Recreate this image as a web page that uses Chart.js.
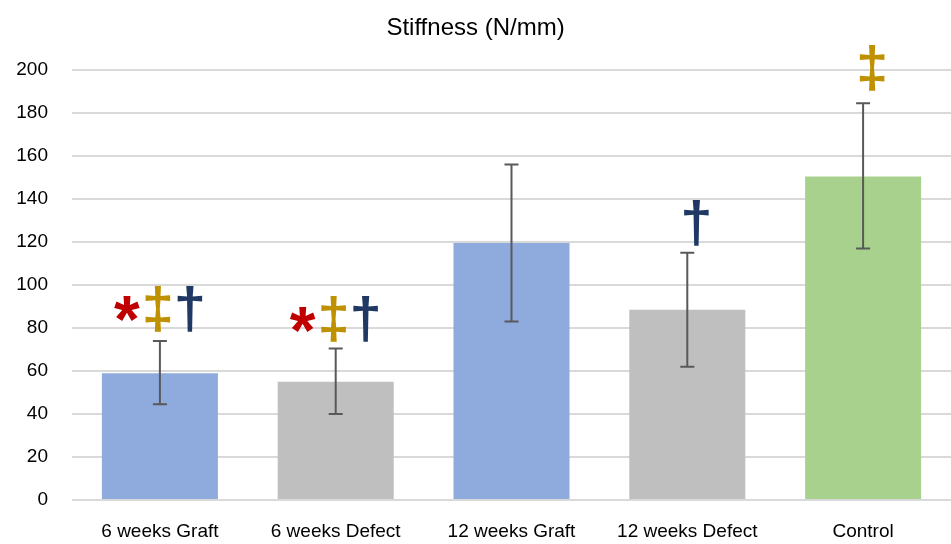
<!DOCTYPE html>
<html lang="en">
<head>
  <meta charset="UTF-8">
  <title>Stiffness (N/mm)</title>
  <style>
    body { margin: 0; padding: 0; background: #fff; }
    .chart-container { width: 951px; height: 544px; }
  </style>
  <script src="https://cdn.jsdelivr.net/npm/chart.js"></script>
</head>
<body>
  <div class="chart-container">
    <canvas id="myChart" width="951" height="544"></canvas>
  </div>

  <script>
    // data
    const categories = ['6 weeks Graft', '6 weeks Defect', '12 weeks Graft', '12 weeks Defect', 'Control'];
    const stiffness = [59, 55, 119.5, 88.5, 150.5];
    const errLow = [44.5, 40, 83, 62, 117];
    const errHigh = [74, 70.5, 156, 115, 184.5];
    const barColors = ['#8faadc', '#bfbfbf', '#8faadc', '#bfbfbf', '#a9d18e'];
    // significance marks above each bar, and the value they sit at
    const sigMarks = [['*', '‡', '†'], ['*', '‡', '†'], [], ['†'], ['‡']];
    const sigLevel = [89, 84, 0, 129, 201];
    const markColors = { '*': '#c00000', '‡': '#bf9000', '†': '#1f3864' };

    const fontFam = "'Liberation Sans Narrow', 'Liberation Sans', sans-serif";

    // error bars + marks
    const extras = {
      id: 'extras',
      afterDatasetsDraw(chart) {
        const ctx = chart.ctx;
        const x = chart.scales.x, y = chart.scales.y;
        ctx.save();
        ctx.strokeStyle = '#595959';
        ctx.lineWidth = 2;
        categories.forEach((c, i) => {
          const cx = x.getPixelForValue(i);
          const yl = y.getPixelForValue(errLow[i]);
          const yh = y.getPixelForValue(errHigh[i]);
          ctx.beginPath();
          ctx.moveTo(cx, yl); ctx.lineTo(cx, yh);
          ctx.moveTo(cx - 7, yl); ctx.lineTo(cx + 7, yl);
          ctx.moveTo(cx - 7, yh); ctx.lineTo(cx + 7, yh);
          ctx.stroke();
        });

        ctx.textAlign = 'center';
        ctx.textBaseline = 'alphabetic';
        sigMarks.forEach((marks, i) => {
          if (!marks.length) return;
          const cx = x.getPixelForValue(i);
          const cy = y.getPixelForValue(sigLevel[i]);
          const offs = marks.length === 3 ? [-33, -2, 30] : [9];
          marks.forEach((m, k) => {
            ctx.font = (m === '*' ? 'bold 66px ' : 'bold 58px ') + fontFam;
            const mt = ctx.measureText(m);
            const h = mt.actualBoundingBoxAscent - mt.actualBoundingBoxDescent;
            ctx.fillStyle = markColors[m];
            ctx.fillText(m, cx + offs[k], cy + h / 2);
          });
        });
        ctx.restore();
      }
    };

    const ctx = document.getElementById('myChart').getContext('2d');
    const myChart = new Chart(ctx, {
      type: 'bar',
      data: {
        labels: categories,
        datasets: [{
          label: 'Stiffness',
          data: stiffness,
          backgroundColor: barColors,
          borderWidth: 0,
          categoryPercentage: 1,
          barPercentage: 0.66
        }]
      },
      options: {
        responsive: false,
        animation: false,
        layout: { padding: 0 },
        plugins: {
          legend: { display: false },
          tooltip: { enabled: false },
          title: {
            display: true,
            text: 'Stiffness (N/mm)',
            color: '#000',
            font: { family: fontFam, size: 24, weight: 'normal' },
            padding: { top: 14, bottom: 27.2 }
          }
        },
        scales: {
          x: {
            grid: { display: false },
            border: { display: false },
            ticks: { color: '#000', font: { family: fontFam, size: 19 }, padding: 12 },
            afterFit(axis) { axis.height = 44; }
          },
          y: {
            min: 0,
            max: 200,
            ticks: { stepSize: 20, color: '#000', font: { family: fontFam, size: 19 }, padding: 24 },
            grid: { color: '#d9d9d9', lineWidth: 2, drawTicks: false },
            border: { display: false },
            afterFit(axis) { axis.width = 72; }
          }
        }
      },
      plugins: [extras]
    });
  </script>
</body>
</html>
